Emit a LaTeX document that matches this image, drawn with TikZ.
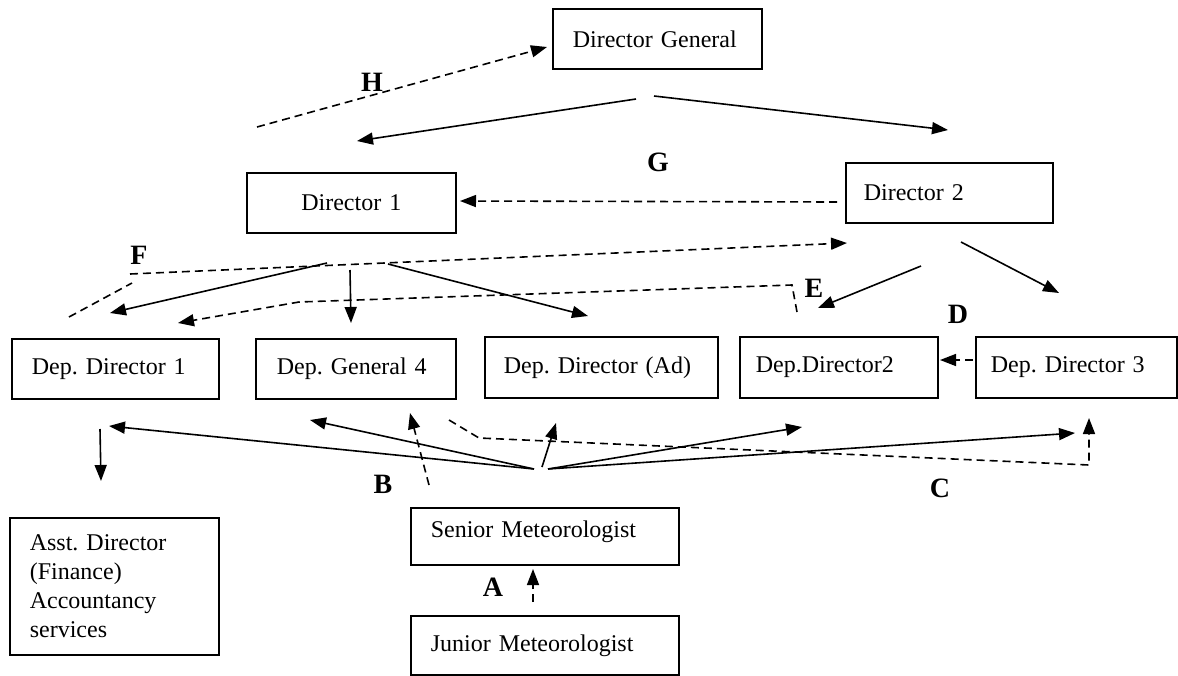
\documentclass[tikz,border=0pt]{standalone}
\usepackage{fontspec}
\setmainfont{Liberation Serif}
\usetikzlibrary{arrows.meta}
\frenchspacing
\begin{document}
\begin{tikzpicture}[x=0.5pt,y=-0.5pt,
  box/.style={draw, line width=0.8pt, rectangle, anchor=north west, inner ysep=0pt,
    font=\fontsize{12}{14.5}\selectfont\frenchspacing, align=left},
  lbl/.style={font=\fontsize{14}{16}\selectfont\bfseries, inner sep=0pt},
  sarrow/.style={line width=0.8pt, -{Triangle[length=8pt,width=6pt]}},
  darrow/.style={line width=0.8pt, dash pattern=on 4pt off 2.5pt, -{Triangle[length=8pt,width=6pt]}},
  dline/.style={line width=0.8pt, dash pattern=on 4pt off 2.5pt}]
\useasboundingbox (0,0) rectangle (1178,675);

% boxes
\node[box, minimum width=104.5pt, minimum height=30pt, text width=84.5pt, inner xsep=10pt] (DG) at (552,8) {Director General};
\node[box, minimum width=104.5pt, minimum height=30pt, text width=84.5pt, inner xsep=10pt, align=center] (D1) at (246,172) {Director 1};
\node[box, minimum width=103.5pt, minimum height=30pt, text width=85.5pt, inner xsep=9pt] (D2) at (845,162) {Director 2};
\node[box, minimum width=103.5pt, minimum height=30pt, text width=83.5pt, inner xsep=10pt] (DD1) at (11,338) {Dep. Director 1};
\node[box, minimum width=100pt, minimum height=30pt, text width=79pt, inner xsep=10.5pt] (DG4) at (255,338) {Dep. General 4};
\node[box, minimum width=116.5pt, minimum height=30.5pt, text width=97.5pt, inner xsep=9.5pt] (DDA) at (484,336) {Dep. Director (Ad)};
\node[box, minimum width=99pt, minimum height=30.5pt, text width=83pt, inner xsep=8pt] (DD2) at (739,336) {\raisebox{2pt}{Dep.Director2}};
\node[box, minimum width=100.5pt, minimum height=30.5pt, text width=85.5pt, inner xsep=7.5pt] (DD3) at (975,336) {\raisebox{2pt}{Dep. Director 3}};
\node[box, minimum width=104.5pt, minimum height=68.5pt, text width=84.5pt, inner xsep=10pt] (AD) at (9,517) {Asst. Director\\(Finance)\\Accountancy\\services};
\node[box, minimum width=134pt, minimum height=28.5pt, text width=114pt, inner xsep=10pt] (SM) at (410,507) {\raisebox{7pt}{Senior Meteorologist}};
\node[box, minimum width=134pt, minimum height=29.5pt, text width=114pt, inner xsep=10pt] (JM) at (410,615) {Junior Meteorologist};

% labels
\node[lbl] (lH) at (372,82) {H};
\node[lbl] (lG) at (658,162) {G};
\node[lbl] (lF) at (139,255) {F};
\node[lbl] (lE) at (814,288) {E};
\node[lbl] (lD) at (958,314) {D};
\node[lbl] (lB) at (383,484) {B};
\node[lbl] (lC) at (940,488) {C};
\node[lbl] (lA) at (493,587) {A};

% coordinates
\coordinate (h1) at (257,127); \coordinate (h2) at (547,47);
\coordinate (dgA) at (636,99); \coordinate (d1top) at (357,141);
\coordinate (dgB) at (654,96); \coordinate (d2top) at (948,130);
\coordinate (g1) at (837,202); \coordinate (g2) at (460,201);
\coordinate (f1) at (69,317); \coordinate (f2) at (132,283);
\coordinate (f3) at (130,274); \coordinate (f4) at (847,243);
\coordinate (hubL) at (327,263); \coordinate (hubM) at (350,270); \coordinate (hubR) at (388,264);
\coordinate (dd1top) at (110,313); \coordinate (dg4top) at (351,323); \coordinate (ddatop) at (588,316);
\coordinate (e1) at (797,312); \coordinate (e2) at (792,285); \coordinate (e3) at (299,302); \coordinate (e4) at (178,323);
\coordinate (e5) at (921,266); \coordinate (e6) at (818,308);
\coordinate (e7) at (961,242); \coordinate (e8) at (1059,293);
\coordinate (d1) at (973,360); \coordinate (d2) at (940,360);
\coordinate (bhL) at (534,469); \coordinate (bhM) at (542,467); \coordinate (bhR) at (548,469);
\coordinate (b1) at (109,426); \coordinate (b2) at (310,420); \coordinate (b3) at (556,423);
\coordinate (b4) at (802,427); \coordinate (b5) at (1075,433);
\coordinate (ad1) at (100,429); \coordinate (ad2) at (101,481);
\coordinate (bb1) at (429,485); \coordinate (bb2) at (410,413);
\coordinate (c1) at (449,420); \coordinate (c2) at (479,438); \coordinate (c3) at (1089,465); \coordinate (c4) at (1089,418);
\coordinate (a1) at (533,602); \coordinate (a2) at (533,569);

% connectors
\draw[darrow] (h1) -- (h2);
\draw[sarrow] (dgA) -- (d1top);
\draw[sarrow] (dgB) -- (d2top);
\draw[darrow] (g1) -- (g2);
\draw[dline] (f1) -- (f2);
\draw[darrow] (f3) -- (f4);
\draw[sarrow] (hubL) -- (dd1top);
\draw[sarrow] (hubM) -- (dg4top);
\draw[sarrow] (hubR) -- (ddatop);
\draw[darrow] (e1) -- (e2) -- (e3) -- (e4);
\draw[sarrow] (e5) -- (e6);
\draw[sarrow] (e7) -- (e8);
\draw[darrow] (d1) -- (d2);
\draw[sarrow] (bhL) -- (b1);
\draw[sarrow] (bhL) -- (b2);
\draw[sarrow] (bhM) -- (b3);
\draw[sarrow] (bhR) -- (b4);
\draw[sarrow] (bhR) -- (b5);
\draw[sarrow] (ad1) -- (ad2);
\draw[darrow] (bb1) -- (bb2);
\draw[darrow] (c1) -- (c2) -- (c3) -- (c4);
\draw[darrow] (a1) -- (a2);
\end{tikzpicture}
\end{document}
